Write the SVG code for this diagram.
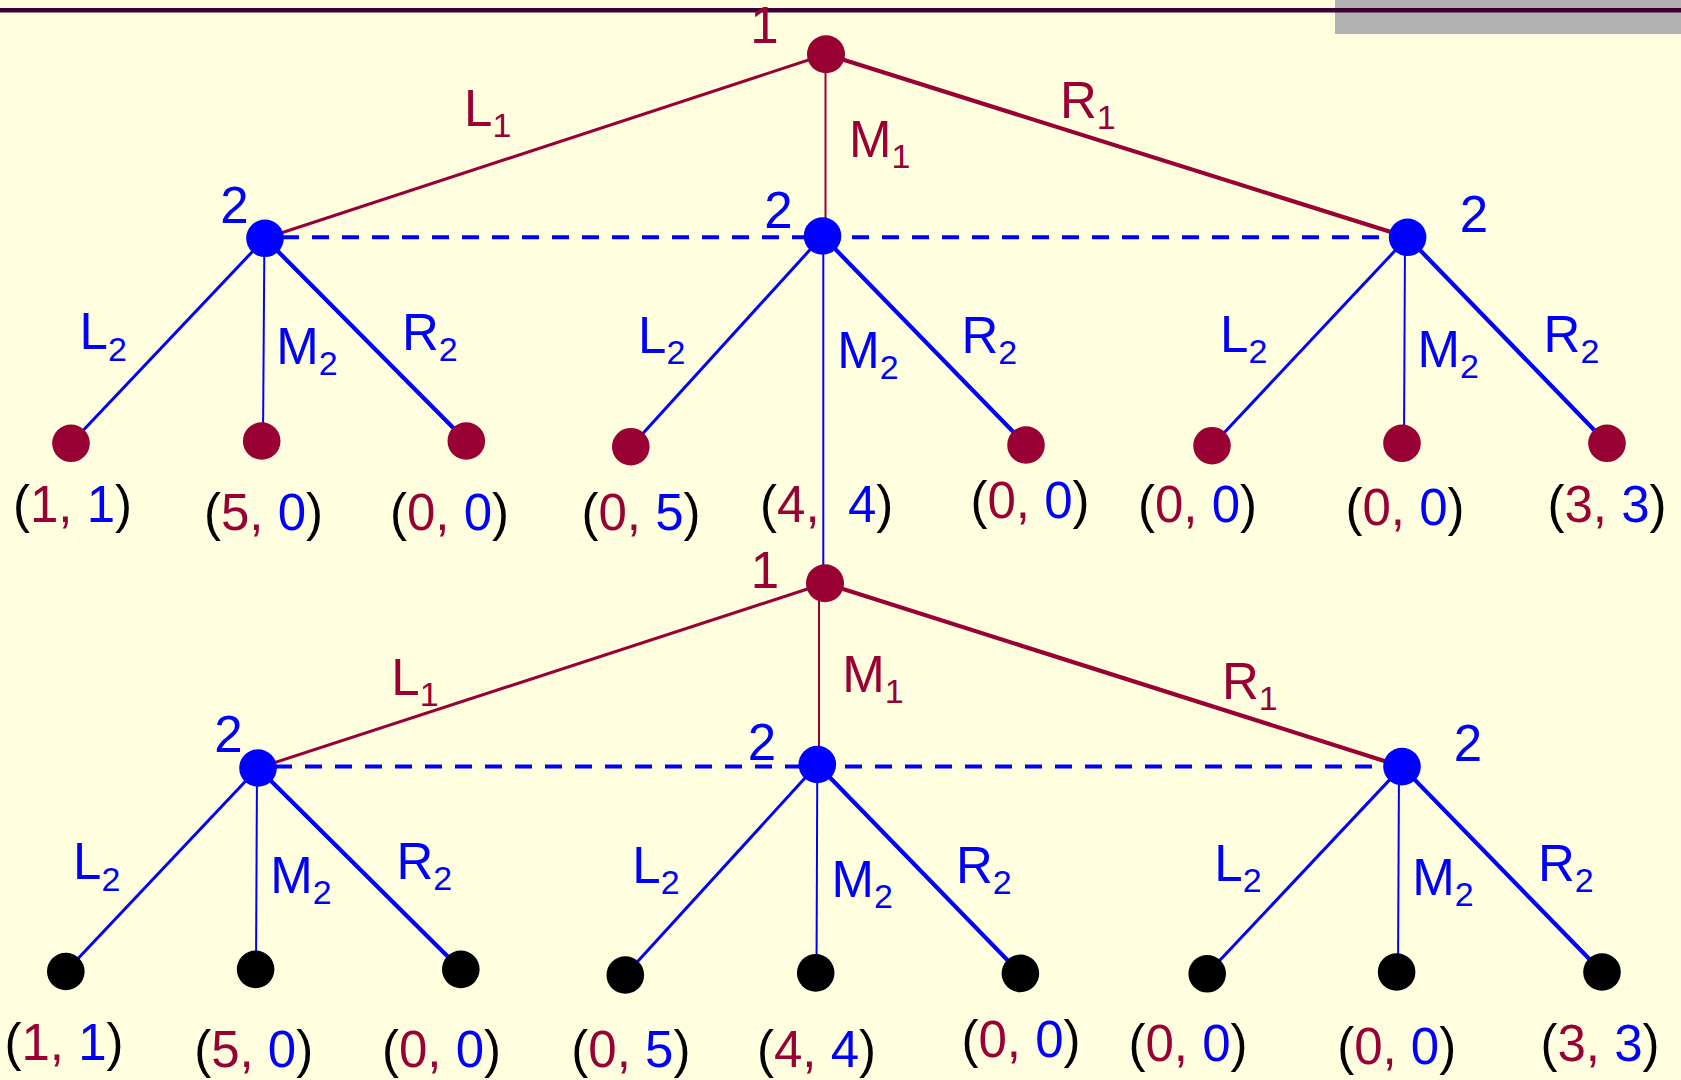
<svg xmlns="http://www.w3.org/2000/svg" width="1681" height="1080" viewBox="0 0 1681 1080">
<style>
.t{font-family:"Liberation Sans",Arial,sans-serif;font-size:51px}
.s{font-size:34px}
.m{fill:#990033}
.b{fill:#0000FF}
.k{fill:#000000}
.em{stroke:#990033;fill:none}
.eb{stroke:#0000FF;fill:none}
.wl{stroke-width:3}
.wm{stroke-width:2}
.wr{stroke-width:4.2}
.dash{stroke:#0000FF;stroke-width:4;stroke-dasharray:17 13;fill:none}
</style>
<rect x="0" y="0" width="1681" height="1080" fill="#FFFFE0"/>
<rect x="1335" y="0" width="346" height="34" fill="#B2B2B2"/>
<line x1="0" y1="10.2" x2="1681" y2="10.2" stroke="#3D0033" stroke-width="4.5"/>

<g id="connectors">
  <line class="em wl" x1="826" y1="54.3" x2="265" y2="238.3"/>
  <line class="em wm" x1="825.5" y1="54.3" x2="825.5" y2="236"/>
  <line class="em wr" x1="826" y1="54.3" x2="1407.6" y2="237.3"/>
  <line class="dash" x1="282" y1="237.3" x2="1390" y2="237.3"/>
  <line class="eb wl" x1="265" y1="238.3" x2="71" y2="443.3"/>
  <line class="eb wm" x1="264.4" y1="238.3" x2="263" y2="441"/>
  <line class="eb wr" x1="265" y1="238.3" x2="466.3" y2="441"/>
  <line class="eb wl" x1="822.5" y1="236" x2="630.8" y2="446.7"/>
  <line class="eb wm" x1="823.3" y1="236" x2="823.3" y2="583"/>
  <line class="eb wr" x1="822.5" y1="236" x2="1026" y2="445"/>
  <line class="eb wl" x1="1407.6" y1="237.3" x2="1212" y2="445.7"/>
  <line class="eb wm" x1="1405" y1="237.3" x2="1404" y2="443.3"/>
  <line class="eb wr" x1="1407.6" y1="237.3" x2="1607" y2="443.3"/>

  <line class="em wl" x1="825" y1="583.3" x2="258" y2="768"/>
  <line class="em wm" x1="819" y1="583.3" x2="819" y2="764.5"/>
  <line class="em wr" x1="825" y1="583.3" x2="1402" y2="766.6"/>
  <line class="dash" x1="275" y1="766.5" x2="1385" y2="766.5"/>
  <line class="eb wl" x1="258" y1="768" x2="65.8" y2="971.5"/>
  <line class="eb wm" x1="257" y1="768" x2="256" y2="969.4"/>
  <line class="eb wr" x1="258" y1="768" x2="460.8" y2="969.4"/>
  <line class="eb wl" x1="817.3" y1="764.5" x2="625.3" y2="975"/>
  <line class="eb wm" x1="817.3" y1="764.5" x2="816.5" y2="972.9"/>
  <line class="eb wr" x1="817.3" y1="764.5" x2="1020.4" y2="973.4"/>
  <line class="eb wl" x1="1402" y1="766.6" x2="1207.2" y2="973.8"/>
  <line class="eb wm" x1="1399" y1="766.6" x2="1398" y2="972"/>
  <line class="eb wr" x1="1402" y1="766.6" x2="1602" y2="972"/>
</g>

<g id="edge-labels" class="t">
  <text class="m" x="464" y="126">L<tspan class="s" dy="11">1</tspan></text>
  <text class="m" x="849" y="156.7">M<tspan class="s" dy="11">1</tspan></text>
  <text class="m" x="1060" y="118">R<tspan class="s" dy="11">1</tspan></text>

  <text class="b" x="79.6" y="349.3">L<tspan class="s" dy="11.4">2</tspan></text>
  <text class="b" x="276.2" y="364">M<tspan class="s" dy="11.4">2</tspan></text>
  <text class="b" x="402" y="350">R<tspan class="s" dy="11.4">2</tspan></text>
  <text class="b" x="638" y="353">L<tspan class="s" dy="11.4">2</tspan></text>
  <text class="b" x="837.2" y="368">M<tspan class="s" dy="11.4">2</tspan></text>
  <text class="b" x="961.5" y="353">R<tspan class="s" dy="11.4">2</tspan></text>
  <text class="b" x="1220" y="351.7">L<tspan class="s" dy="11.4">2</tspan></text>
  <text class="b" x="1417.5" y="366.7">M<tspan class="s" dy="11.4">2</tspan></text>
  <text class="b" x="1543.6" y="351.7">R<tspan class="s" dy="11.4">2</tspan></text>

  <text class="m" x="391.3" y="695">L<tspan class="s" dy="11">1</tspan></text>
  <text class="m" x="842.2" y="691.7">M<tspan class="s" dy="11">1</tspan></text>
  <text class="m" x="1222" y="698.6">R<tspan class="s" dy="11">1</tspan></text>

  <text class="b" x="73.1" y="879.2">L<tspan class="s" dy="11.4">2</tspan></text>
  <text class="b" x="270.2" y="893">M<tspan class="s" dy="11.4">2</tspan></text>
  <text class="b" x="396.4" y="879">R<tspan class="s" dy="11.4">2</tspan></text>
  <text class="b" x="632.3" y="882.6">L<tspan class="s" dy="11.4">2</tspan></text>
  <text class="b" x="831.6" y="897">M<tspan class="s" dy="11.4">2</tspan></text>
  <text class="b" x="956" y="883">R<tspan class="s" dy="11.4">2</tspan></text>
  <text class="b" x="1214.3" y="881">L<tspan class="s" dy="11.4">2</tspan></text>
  <text class="b" x="1412.2" y="895">M<tspan class="s" dy="11.4">2</tspan></text>
  <text class="b" x="1538" y="881">R<tspan class="s" dy="11.4">2</tspan></text>
</g>

<g id="top-root">
  <circle class="m" cx="826" cy="54.3" r="19"/>
  <text class="t m" x="764.5" y="43.3" text-anchor="middle">1</text>
</g>
<g id="top-p2-left">
  <circle class="b" cx="265" cy="238.3" r="18.8"/>
  <text class="t b" x="234.5" y="223" text-anchor="middle">2</text>
</g>
<g id="top-p2-mid">
  <circle class="b" cx="822.5" cy="236" r="18.8"/>
  <text class="t b" x="778.5" y="227.7" text-anchor="middle">2</text>
</g>
<g id="top-p2-right">
  <circle class="b" cx="1407.6" cy="237.3" r="18.8"/>
  <text class="t b" x="1474" y="231.7" text-anchor="middle">2</text>
</g>

<g id="top-leaf-1"><circle class="m" cx="71" cy="443.3" r="18.8"/>
  <text class="t" x="72.5" y="521.7" text-anchor="middle"><tspan class="k">(</tspan><tspan class="m">1,</tspan> <tspan class="b">1</tspan><tspan class="k">)</tspan></text></g>
<g id="top-leaf-2"><circle class="m" cx="261.7" cy="441" r="18.8"/>
  <text class="t" x="263.5" y="530" text-anchor="middle"><tspan class="k">(</tspan><tspan class="m">5,</tspan> <tspan class="b">0</tspan><tspan class="k">)</tspan></text></g>
<g id="top-leaf-3"><circle class="m" cx="466.3" cy="441" r="18.8"/>
  <text class="t" x="449.5" y="530" text-anchor="middle"><tspan class="k">(</tspan><tspan class="m">0,</tspan> <tspan class="b">0</tspan><tspan class="k">)</tspan></text></g>
<g id="top-leaf-4"><circle class="m" cx="630.8" cy="446.7" r="18.8"/>
  <text class="t" x="641" y="530" text-anchor="middle"><tspan class="k">(</tspan><tspan class="m">0,</tspan> <tspan class="b">5</tspan><tspan class="k">)</tspan></text></g>
<g id="top-leaf-5">
  <text class="t" x="826.7" y="522.3" text-anchor="middle"><tspan class="k">(</tspan><tspan class="m">4,</tspan>&#160;&#160;<tspan class="b">4</tspan><tspan class="k">)</tspan></text></g>
<g id="top-leaf-6"><circle class="m" cx="1026" cy="445" r="18.8"/>
  <text class="t" x="1030" y="518" text-anchor="middle"><tspan class="k">(</tspan><tspan class="m">0,</tspan> <tspan class="b">0</tspan><tspan class="k">)</tspan></text></g>
<g id="top-leaf-7"><circle class="m" cx="1212" cy="445.7" r="18.8"/>
  <text class="t" x="1197.5" y="521.7" text-anchor="middle"><tspan class="k">(</tspan><tspan class="m">0,</tspan> <tspan class="b">0</tspan><tspan class="k">)</tspan></text></g>
<g id="top-leaf-8"><circle class="m" cx="1402" cy="443.3" r="18.8"/>
  <text class="t" x="1405" y="525" text-anchor="middle"><tspan class="k">(</tspan><tspan class="m">0,</tspan> <tspan class="b">0</tspan><tspan class="k">)</tspan></text></g>
<g id="top-leaf-9"><circle class="m" cx="1607" cy="443.3" r="18.8"/>
  <text class="t" x="1607" y="521.7" text-anchor="middle"><tspan class="k">(</tspan><tspan class="m">3,</tspan> <tspan class="b">3</tspan><tspan class="k">)</tspan></text></g>

<g id="bottom-root">
  <circle class="m" cx="825" cy="583.3" r="19"/>
  <text class="t m" x="765" y="588.3" text-anchor="middle">1</text>
</g>
<g id="bottom-p2-left">
  <circle class="b" cx="258" cy="768" r="18.8"/>
  <text class="t b" x="228.5" y="752" text-anchor="middle">2</text>
</g>
<g id="bottom-p2-mid">
  <circle class="b" cx="817.3" cy="764.5" r="18.8"/>
  <text class="t b" x="762" y="760.4" text-anchor="middle">2</text>
</g>
<g id="bottom-p2-right">
  <circle class="b" cx="1402" cy="766.6" r="18.8"/>
  <text class="t b" x="1468" y="760.7" text-anchor="middle">2</text>
</g>

<g id="bottom-leaf-1"><circle class="k" cx="65.8" cy="971.5" r="18.8"/>
  <text class="t" x="64" y="1060" text-anchor="middle"><tspan class="k">(</tspan><tspan class="m">1,</tspan> <tspan class="b">1</tspan><tspan class="k">)</tspan></text></g>
<g id="bottom-leaf-2"><circle class="k" cx="255.6" cy="969.4" r="18.8"/>
  <text class="t" x="253.7" y="1067" text-anchor="middle"><tspan class="k">(</tspan><tspan class="m">5,</tspan> <tspan class="b">0</tspan><tspan class="k">)</tspan></text></g>
<g id="bottom-leaf-3"><circle class="k" cx="460.8" cy="969.4" r="18.8"/>
  <text class="t" x="441.5" y="1067" text-anchor="middle"><tspan class="k">(</tspan><tspan class="m">0,</tspan> <tspan class="b">0</tspan><tspan class="k">)</tspan></text></g>
<g id="bottom-leaf-4"><circle class="k" cx="625.3" cy="975" r="18.8"/>
  <text class="t" x="630.9" y="1067" text-anchor="middle"><tspan class="k">(</tspan><tspan class="m">0,</tspan> <tspan class="b">5</tspan><tspan class="k">)</tspan></text></g>
<g id="bottom-leaf-5"><circle class="k" cx="815.7" cy="972.9" r="18.8"/>
  <text class="t" x="816.5" y="1067" text-anchor="middle"><tspan class="k">(</tspan><tspan class="m">4,</tspan> <tspan class="b">4</tspan><tspan class="k">)</tspan></text></g>
<g id="bottom-leaf-6"><circle class="k" cx="1020.4" cy="973.4" r="18.8"/>
  <text class="t" x="1021" y="1057" text-anchor="middle"><tspan class="k">(</tspan><tspan class="m">0,</tspan> <tspan class="b">0</tspan><tspan class="k">)</tspan></text></g>
<g id="bottom-leaf-7"><circle class="k" cx="1207.2" cy="973.8" r="18.8"/>
  <text class="t" x="1188" y="1060.7" text-anchor="middle"><tspan class="k">(</tspan><tspan class="m">0,</tspan> <tspan class="b">0</tspan><tspan class="k">)</tspan></text></g>
<g id="bottom-leaf-8"><circle class="k" cx="1396.6" cy="972" r="18.8"/>
  <text class="t" x="1396.7" y="1064" text-anchor="middle"><tspan class="k">(</tspan><tspan class="m">0,</tspan> <tspan class="b">0</tspan><tspan class="k">)</tspan></text></g>
<g id="bottom-leaf-9"><circle class="k" cx="1602" cy="972" r="18.8"/>
  <text class="t" x="1600" y="1060.7" text-anchor="middle"><tspan class="k">(</tspan><tspan class="m">3,</tspan> <tspan class="b">3</tspan><tspan class="k">)</tspan></text></g>
</svg>
